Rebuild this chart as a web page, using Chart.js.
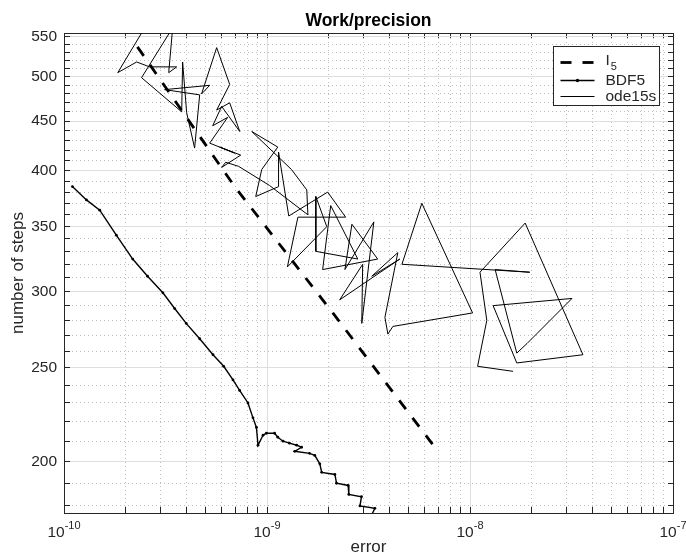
<!DOCTYPE html>
<html>
<head>
<meta charset="utf-8">
<title>Work/precision</title>
<script src="https://cdn.jsdelivr.net/npm/chart.js@4.4.1/dist/chart.umd.min.js"></script>
<style>
  html, body { margin: 0; padding: 0; background: #fff; }
  #wrap { width: 686px; height: 558px; }
</style>
</head>
<body>
<div id="wrap"><canvas id="grafica" width="686" height="558"></canvas></div>
<script>
// ── Datos ─────────────────────────────────────────────────
const i5Err   = [2.30e-10, 6.93e-10, 2.11e-9, 6.95e-9];
const i5Steps = [537, 385, 285, 205];

const bdfErr = [1.10e-10, 1.29e-10, 1.50e-10, 1.81e-10, 2.18e-10, 2.58e-10, 3.07e-10, 3.51e-10,
  4.00e-10, 4.66e-10, 5.42e-10, 6.12e-10, 6.80e-10, 7.33e-10, 8.06e-10, 8.53e-10, 8.87e-10,
  9.03e-10, 9.56e-10, 9.93e-10, 1.09e-9, 1.13e-9, 1.20e-9, 1.29e-9, 1.40e-9, 1.48e-9, 1.37e-9,
  1.62e-9, 1.72e-9, 1.82e-9, 1.86e-9, 2.16e-9, 2.20e-9, 2.51e-9, 2.53e-9, 2.92e-9, 2.87e-9,
  3.40e-9, 3.27e-9];
const bdfSteps = [385, 373, 364, 343, 324, 311, 299, 288, 278, 268, 258, 251, 243, 237, 230, 222,
  217, 208, 213, 214, 214, 212, 210, 209, 208, 207, 205, 204, 203, 199, 195, 194, 190, 189, 185,
  184, 180, 179, 176];

const odeErr = [2.55e-10, 1.84e-10, 2.28e-10, 2.64e-10, 3.59e-10, 3.28e-10, 3.43e-10, 2.41e-10,
  3.80e-10, 3.84e-10, 4.02e-10, 4.40e-10, 4.66e-10, 3.13e-10, 5.22e-10, 4.76e-10, 5.65e-10,
  6.55e-10, 5.65e-10, 6.55e-10, 7.34e-10, 5.98e-10, 5.40e-10, 6.40e-10, 5.22e-10, 6.93e-10,
  5.85e-10, 7.42e-10, 5.98e-10, 6.26e-10, 7.25e-10, 1.03e-9, 1.59e-9, 1.57e-9, 1.32e-9, 8.41e-10,
  1.13e-9, 9.42e-10, 8.80e-10, 1.14e-9, 1.14e-9, 1.28e-9, 1.99e-9, 2.44e-9, 1.42e-9, 1.26e-9,
  1.97e-9, 1.74e-9, 1.74e-9, 2.80e-9, 2.06e-9, 1.88e-9, 3.51e-9, 2.62e-9, 2.42e-9, 3.36e-9,
  2.93e-9, 2.96e-9, 2.28e-9, 4.51e-9, 3.28e-9, 4.41e-9, 3.81e-9, 3.94e-9, 4.17e-9, 1.03e-8,
  5.79e-9, 4.62e-9, 1.97e-8, 1.33e-8, 1.70e-8, 1.91e-8, 3.18e-8, 1.30e-8, 1.70e-8, 3.60e-8,
  1.87e-8, 1.12e-8, 1.21e-8, 1.09e-8, 1.63e-8];
const odeSteps = [566, 505, 518, 512, 512, 505, 562, 499, 460, 518, 459, 422, 479, 485, 490, 480,
  536, 491, 462, 470, 439, 466, 445, 454, 427, 417, 423, 415, 403, 408, 404, 386, 360, 382, 401,
  439, 423, 401, 376, 385, 418, 359, 380, 358, 358, 318, 350, 376, 330, 324, 368, 316, 324, 352,
  316, 354, 278, 320, 294, 324, 311, 329, 282, 271, 276, 285, 370, 320, 314, 316, 259, 265, 295,
  290, 253, 258, 353, 314, 280, 251, 248];

// ── Ejes ──────────────────────────────────────────────────
const xMajor = [1e-10, 1e-9, 1e-8, 1e-7];
const xTickBase = '10';
const xTickExp = ['-10', '-9', '-8', '-7'];
const xMinor = [2e-10, 3e-10, 4e-10, 5e-10, 6e-10, 7e-10, 8e-10, 9e-10,
  2e-9, 3e-9, 4e-9, 5e-9, 6e-9, 7e-9, 8e-9, 9e-9,
  2e-8, 3e-8, 4e-8, 5e-8, 6e-8, 7e-8, 8e-8, 9e-8];
const yMajor = [200, 250, 300, 350, 400, 450, 500, 550];
const yMinor = [180, 190, 210, 220, 230, 240, 260, 270, 280, 290, 310, 320, 330, 340,
  360, 370, 380, 390, 410, 420, 430, 440, 460, 470, 480, 490, 510, 520, 530, 540];

const FONT = "'Liberation Sans', Arial, Helvetica, sans-serif";
const INK = '#262626';
const MAJOR_GRID = '#dedede';
const MINOR_GRID = 'rgba(0,0,0,0.26)';
const NONE = 'rgba(0,0,0,0)';

Chart.defaults.font.family = FONT;
Chart.defaults.color = INK;

const allX = [...xMajor, ...xMinor].sort((a, b) => a - b);
const allY = [...yMajor, ...yMinor].sort((a, b) => a - b);
const pts = (xs, ys) => xs.map((x, i) => ({ x, y: ys[i] }));
const setTicks = vals => scale => { scale.ticks = vals.map(v => ({ value: v })); };
const SUB = '₀₁₂₃₄₅₆₇₈₉';

// ── Plugins: titulo centrado, etiquetas 10^n y leyenda ───
const centrarTitulo = {
  id: 'centrarTitulo',
  afterLayout(chart) {
    const t = chart.titleBlock;
    if (t) { t.left = chart.chartArea.left; t.right = chart.chartArea.right; }
  }
};

const etiquetasX = {
  id: 'etiquetasX',
  afterDraw(chart) {
    const { ctx } = chart;
    const sx = chart.scales.x;
    ctx.save();
    ctx.fillStyle = INK;
    ctx.textBaseline = 'alphabetic';
    ctx.textAlign = 'left';
    xMajor.forEach((v, i) => {
      const px = sx.getPixelForValue(v);
      ctx.font = `15.5px ${FONT}`;
      const w1 = ctx.measureText(xTickBase).width;
      ctx.font = `11px ${FONT}`;
      const w2 = ctx.measureText(xTickExp[i]).width;
      const x0 = px - (w1 + w2) / 2;
      ctx.font = `15.5px ${FONT}`;
      ctx.fillText(xTickBase, x0, sx.top + 23.5);
      ctx.font = `11px ${FONT}`;
      ctx.fillText(xTickExp[i], x0 + w1, sx.top + 16);
    });
    ctx.restore();
  }
};

const leyenda = {
  id: 'leyenda',
  afterDatasetsDraw(chart) {
    const { ctx, chartArea: ca } = chart;
    const bx = Math.round(ca.right - 120) + 0.5;
    const by = Math.round(ca.top + 13) + 0.5;
    const bw = 106, bh = 59;
    const rows = [15.5, 33, 49];
    ctx.save();
    ctx.fillStyle = '#fff';
    ctx.fillRect(bx, by, bw, bh);
    ctx.strokeStyle = INK;
    ctx.lineWidth = 1;
    ctx.strokeRect(bx, by, bw, bh);
    chart.data.datasets.forEach((ds, i) => {
      const y = Math.round(by + rows[i]) + 0.5;
      const x1 = bx + 7, x2 = bx + 41;
      ctx.beginPath();
      ctx.setLineDash(ds.borderDash || []);
      ctx.lineWidth = Math.min(ds.borderWidth, 2.8);
      ctx.strokeStyle = ds.borderColor;
      ctx.moveTo(x1, y);
      ctx.lineTo(x2, y);
      ctx.stroke();
      ctx.setLineDash([]);
      if (ds.pointRadius > 0) {
        ctx.beginPath();
        ctx.arc((x1 + x2) / 2, y, ds.pointRadius + 0.3, 0, Math.PI * 2);
        ctx.fillStyle = ds.borderColor;
        ctx.fill();
      }
      // subindice: texto normal + digitos pequenos mas abajo
      let main = ds.label, sub = '';
      while (main.length && SUB.includes(main[main.length - 1])) {
        sub = SUB.indexOf(main[main.length - 1]) + sub;
        main = main.slice(0, -1);
      }
      ctx.fillStyle = INK;
      ctx.textBaseline = 'middle';
      ctx.textAlign = 'left';
      ctx.font = `15.5px ${FONT}`;
      const tx = bx + 52;
      ctx.fillText(main, tx, y - (sub ? 2 : 0));
      if (sub) {
        const w = ctx.measureText(main).width;
        ctx.font = `11px ${FONT}`;
        ctx.fillText(sub, tx + w + 1, y + 4);
      }
    });
    ctx.restore();
  }
};

// ── Grafica ───────────────────────────────────────────────
function ejeLog(pos, min, max, vals, majors, extra) {
  const principal = pos === 'bottom' || pos === 'left';
  return Object.assign({
    type: 'logarithmic',
    position: pos,
    min, max,
    bounds: 'data',
    afterBuildTicks: setTicks(vals),
    grid: {
      color: c => {
        const m = majors.includes(c.tick && c.tick.value);
        return principal ? (m ? MAJOR_GRID : NONE) : (m ? NONE : MINOR_GRID);
      },
      lineWidth: 1,
      tickColor: INK,
      tickLength: principal ? -6 : -5,
      tickWidth: 1
    },
    border: { display: true, color: INK, width: 1, dash: principal ? [] : [1, 3] },
    ticks: principal ? {} : { display: false }
  }, extra);
}

new Chart(document.getElementById('grafica'), {
  type: 'scatter',
  data: {
    datasets: [
      {
        label: 'I₅',
        data: pts(i5Err, i5Steps),
        showLine: true,
        borderColor: '#000',
        borderWidth: 2.8,
        borderDash: [11, 11],
        pointRadius: 0
      },
      {
        label: 'BDF5',
        data: pts(bdfErr, bdfSteps),
        showLine: true,
        borderColor: '#000',
        borderWidth: 1.4,
        pointRadius: 1.4,
        pointBorderWidth: 0,
        pointBackgroundColor: '#000'
      },
      {
        label: 'ode15s',
        data: pts(odeErr, odeSteps),
        showLine: true,
        borderColor: '#000',
        borderWidth: 1,
        pointRadius: 0
      }
    ]
  },
  options: {
    responsive: false,
    animation: false,
    devicePixelRatio: 1,
    events: [],
    layout: { padding: 0 },
    plugins: {
      legend: { display: false },
      tooltip: { enabled: false },
      title: {
        display: true,
        text: 'Work/precision',
        color: '#000',
        font: { size: 17.5, weight: 'bold' },
        padding: { top: 11, bottom: 0 }
      }
    },
    scales: {
      x: ejeLog('bottom', 1e-10, 1e-7, allX, xMajor, {
        afterFit: s => { s.height = 45; },
        ticks: { autoSkip: false, maxRotation: 0, callback: () => '' },
        title: { display: true, text: 'error', color: INK, font: { size: 17 }, padding: { top: 0, bottom: 0 } }
      }),
      x2: ejeLog('top', 1e-10, 1e-7, allX, xMajor, {
        afterFit: s => { s.height = 1; }
      }),
      y: ejeLog('left', 177, 555, allY, yMajor, {
        afterFit: s => { s.width = 64; },
        ticks: {
          autoSkip: false, padding: 13, color: INK, font: { size: 15.5 },
          callback: v => yMajor.includes(v) ? String(v) : ''
        },
        title: { display: true, text: 'number of steps', color: INK, font: { size: 17 }, padding: { top: 8, bottom: 0 } }
      }),
      y2: ejeLog('right', 177, 555, allY, yMajor, {
        afterFit: s => { s.width = 13; }
      })
    }
  },
  plugins: [centrarTitulo, etiquetasX, leyenda]
});
</script>
</body>
</html>
